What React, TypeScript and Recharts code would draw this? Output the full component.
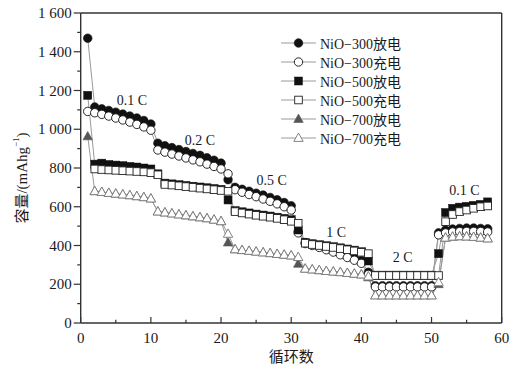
import React from 'react';
import { LineChart, Line, XAxis, YAxis, ReferenceLine, ReferenceDot, Legend, Label } from 'recharts';

const cycles = [1, 2, 3, 4, 5, 6, 7, 8, 9, 10, 11, 12, 13, 14, 15, 16, 17, 18, 19, 20, 21, 22, 23, 24, 25, 26, 27, 28, 29, 30, 31, 32, 33, 34, 35, 36, 37, 38, 39, 40, 41, 42, 43, 44, 45, 46, 47, 48, 49, 50, 51, 52, 53, 54, 55, 56, 57, 58];

const nio300Discharge = [
  1470,
  1115, 1105, 1097, 1088, 1078, 1068, 1058, 1045, 1027,
  928, 915, 905, 895, 885, 875, 865, 853, 840, 825,
  740,
  700, 690, 680, 670, 660, 648, 636, 622, 605,
  472,
  415, 406, 397, 387, 376, 363, 350, 337, 322,
  262,
  192, 192, 192, 192, 192, 192, 192, 192, 192,
  465,
  480, 485, 488, 490, 490, 488, 486,
];
const nio300Charge = [
  1092,
  1085, 1077, 1068, 1058, 1048, 1037, 1025, 1012, 995,
  893, 882, 872, 862, 852, 842, 832, 820, 808, 795,
  770,
  688, 675, 663, 652, 640, 628, 615, 600, 583,
  465,
  410, 400, 390, 378, 366, 352, 338, 324, 308,
  250,
  186, 186, 186, 186, 186, 186, 186, 186, 186,
  455,
  465, 470, 472, 473, 473, 472, 470,
];
const nio500Discharge = [
  1175,
  820, 825, 818, 815, 812, 808, 805, 800, 795,
  770, 722, 718, 714, 710, 706, 702, 698, 694, 690,
  635,
  580, 574, 568, 562, 557, 552, 546, 540, 533,
  480,
  415, 409, 404, 399, 394, 388, 382, 376, 368,
  320,
  247, 247, 247, 247, 247, 247, 247, 247, 247,
  358,
  570, 592, 598, 602, 607, 612, 625,
];
const nio500Charge = [
  null,
  795, 792, 790, 788, 786, 784, 782, 780, 776,
  765, 715, 712, 708, 704, 700, 696, 692, 688, 684,
  680,
  575, 568, 562, 556, 551, 546, 540, 533, 525,
  515,
  412, 405, 400, 395, 390, 384, 378, 372, 365,
  358,
  245, 245, 245, 245, 245, 245, 245, 245, 245,
  245,
  523, 560, 575, 583, 592, 600, 604,
];
const nio700Discharge = [
  963,
  680, 676, 671, 667, 663, 659, 654, 649, 642,
  575, 570, 565, 560, 555, 550, 545, 540, 533, 525,
  415,
  380, 376, 372, 368, 364, 360, 356, 352, 348,
  305,
  280, 276, 272, 268, 265, 262, 258, 254, 250,
  235,
  142, 142, 142, 142, 142, 142, 142, 142, 142,
  200,
  440, 445, 447, 446, 444, 440, 436,
];
const nio700Charge = [
  null,
  680, 676, 671, 667, 663, 659, 654, 649, 642,
  575, 570, 565, 560, 555, 550, 545, 540, 533, 525,
  460,
  380, 376, 372, 368, 364, 360, 356, 352, 348,
  340,
  280, 276, 272, 268, 265, 262, 258, 254, 250,
  240,
  142, 142, 142, 142, 142, 142, 142, 142, 142,
  210,
  440, 445, 447, 446, 444, 440, 436,
];

const seriesKeys = ['d300', 'c300', 'd500', 'c500', 'd700', 'c700'];
const seriesNames = ['NiO−300放电', 'NiO−300充电', 'NiO−500放电', 'NiO−500充电', 'NiO−700放电', 'NiO−700充电'];
const seriesMarkers = ['circleFilled', 'circleOpen', 'squareFilled', 'squareOpen', 'triFilled', 'triOpen'];

const xTickValues = [0, 5, 10, 15, 20, 25, 30, 35, 40, 45, 50, 55, 60];
const xTickLabels: Record<number, string> = { 0: '0', 10: '10', 20: '20', 30: '30', 40: '40', 50: '50', 60: '60' };
const yTickValues = [0, 100, 200, 300, 400, 500, 600, 700, 800, 900, 1000, 1100, 1200, 1300, 1400, 1500, 1600];
const yTickLabels: Record<number, string> = { 0: '0', 200: '200', 400: '400', 600: '600', 800: '800', 1000: '1 000', 1200: '1 200', 1400: '1 400', 1600: '1 600' };

const rateLabels = ['0.1 C', '0.2 C', '0.5 C', '1 C', '2 C', '0.1 C'];
const rateLabelCycles = [7.3, 17.0, 27.2, 36.4, 45.9, 54.7];
const rateLabelValues = [1152, 946, 739, 472, 340, 684];

const FONT = "'Liberation Serif', 'Times New Roman', 'Noto Sans CJK SC', serif";
const LINE_COLOR = '#9a9a9a';
const AXIS_COLOR = '#333';

const data = cycles.map((c, i) => ({
  cycle: c,
  d300: nio300Discharge[i],
  c300: nio300Charge[i],
  d500: nio500Discharge[i],
  c500: nio500Charge[i],
  d700: nio700Discharge[i],
  c700: nio700Charge[i],
}));

function drawMarker(kind: string, cx: number, cy: number, key?: string) {
  switch (kind) {
    case 'circleFilled':
      return <circle key={key} cx={cx} cy={cy} r={4.3} fill="#111" stroke="#111" strokeWidth={0.6} />;
    case 'circleOpen':
      return <circle key={key} cx={cx} cy={cy} r={4.2} fill="#fff" stroke="#111" strokeWidth={0.9} />;
    case 'squareFilled':
      return <rect key={key} x={cx - 4} y={cy - 4} width={8} height={8} fill="#111" stroke="#111" strokeWidth={0.5} />;
    case 'squareOpen':
      return <rect key={key} x={cx - 3.8} y={cy - 3.8} width={7.6} height={7.6} fill="#fff" stroke="#222" strokeWidth={0.9} />;
    case 'triFilled':
      return <polygon key={key} points={`${cx},${cy - 5} ${cx - 4.7},${cy + 3.4} ${cx + 4.7},${cy + 3.4}`} fill="#555" stroke="#555" strokeWidth={0.6} />;
    default:
      return <polygon key={key} points={`${cx},${cy - 5} ${cx - 4.7},${cy + 3.4} ${cx + 4.7},${cy + 3.4}`} fill="#fff" stroke="#777" strokeWidth={0.9} />;
  }
}

const makeDot = (kind: string) => (props: any) => {
  const { cx, cy, index, value } = props;
  const k = `${kind}-${index}`;
  if (cx == null || cy == null || value == null || isNaN(cx) || isNaN(cy)) return <g key={k} />;
  return drawMarker(kind, cx, cy, k);
};

const XTick = (props: any) => {
  const { x, y, payload } = props;
  const v = payload.value;
  const label = xTickLabels[v];
  const major = label !== undefined;
  return (
    <g>
      <line x1={x} y1={y} x2={x} y2={y - (major ? 6 : 3.3)} stroke={AXIS_COLOR} strokeWidth={1.2} />
      {major && (
        <text x={x} y={y + 20} textAnchor="middle" fontFamily={FONT} fontSize={15} fill="#1a1a1a">{label}</text>
      )}
    </g>
  );
};

const YTick = (props: any) => {
  const { x, y, payload } = props;
  const v = payload.value;
  const label = yTickLabels[v];
  const major = label !== undefined;
  return (
    <g>
      <line x1={x} y1={y} x2={x - (major ? 7 : 3.5)} y2={y} stroke={AXIS_COLOR} strokeWidth={1.2} />
      {major && (
        <text x={x - 9} y={y + 5} textAnchor="end" fontFamily={FONT} fontSize={15} fill="#1a1a1a">{label}</text>
      )}
    </g>
  );
};

const LegendBox = () => (
  <div style={{ fontFamily: FONT, fontSize: 14, color: '#1a1a1a' }}>
    {seriesNames.map((name, i) => (
      <div key={name} style={{ display: 'flex', alignItems: 'center', height: 18.9, whiteSpace: 'nowrap' }}>
        <svg width={38} height={14} style={{ display: 'block' }}>
          <line x1={0} y1={7} x2={35} y2={7} stroke={LINE_COLOR} strokeWidth={1} />
          {drawMarker(seriesMarkers[i], 17.5, 7)}
        </svg>
        <span style={{ marginLeft: 1 }}>{name}</span>
      </div>
    ))}
  </div>
);

export default function App() {
  return (
    <div style={{ margin: '-8px 0 0 -8px', width: 518, height: 370 }}>
      <LineChart width={518} height={370} data={data} margin={{ top: 13, right: 16.3, left: 20.7, bottom: 17 }}>
        <XAxis
          dataKey="cycle"
          type="number"
          domain={[0, 60]}
          ticks={xTickValues}
          interval={0}
          tickSize={0}
          tickMargin={0}
          tickLine={false}
          tick={<XTick />}
          height={30}
          axisLine={{ stroke: AXIS_COLOR, strokeWidth: 1.4 }}
        >
          <Label
            content={(p: any) => {
              const vb = p.viewBox;
              return (
                <text x={vb.x + vb.width / 2} y={vb.y + 39} textAnchor="middle" fontFamily={FONT} fontSize={15} fill="#1a1a1a">循环数</text>
              );
            }}
          />
        </XAxis>
        <YAxis
          type="number"
          domain={[0, 1600]}
          ticks={yTickValues}
          interval={0}
          tickSize={0}
          tickMargin={0}
          tickLine={false}
          tick={<YTick />}
          width={60}
          axisLine={{ stroke: AXIS_COLOR, strokeWidth: 1.4 }}
        >
          <Label
            content={(p: any) => {
              const vb = p.viewBox;
              const cx = vb.x + 1.5;
              const cy = vb.y + vb.height / 2 + 10;
              return (
                <text x={cx} y={cy} transform={`rotate(-90 ${cx} ${cy})`} textAnchor="middle" dominantBaseline="central" fontFamily={FONT} fontSize={15} fill="#1a1a1a">
                  容量/(mAhg<tspan fontSize={9} dy={-6}>−1</tspan><tspan dy={6}>)</tspan>
                </text>
              );
            }}
          />
        </YAxis>
        <ReferenceLine y={1600} stroke={AXIS_COLOR} strokeWidth={1.4} />
        <ReferenceLine x={60} stroke={AXIS_COLOR} strokeWidth={1.4} />
        {seriesKeys.map((k, i) => (
          <Line
            key={k}
            dataKey={k}
            name={seriesNames[i]}
            type="linear"
            stroke={LINE_COLOR}
            strokeWidth={1}
            dot={makeDot(seriesMarkers[i])}
            activeDot={false}
            isAnimationActive={false}
          />
        ))}
        {rateLabels.map((t, i) => (
          <ReferenceDot
            key={`rl-${i}`}
            x={rateLabelCycles[i]}
            y={rateLabelValues[i]}
            r={0}
            fill="none"
            stroke="none"
            label={{ value: t, position: 'center', fontFamily: FONT, fontSize: 14, fill: '#1a1a1a' }}
          />
        ))}
        <Legend
          layout="vertical"
          align="center"
          verticalAlign="middle"
          content={() => <LegendBox />}
          wrapperStyle={{ position: 'absolute', left: 281, top: 34, width: 200, height: 120 }}
        />
      </LineChart>
    </div>
  );
}
